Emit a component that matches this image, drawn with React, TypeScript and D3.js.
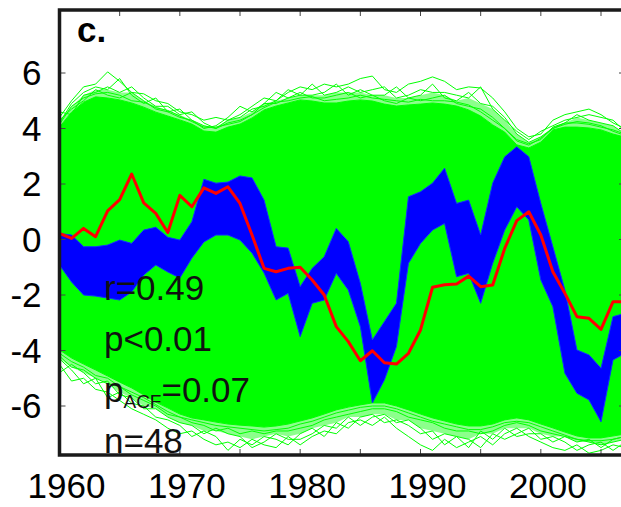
import React from "react";
import * as d3 from "d3";

// ---------- data ----------
const years = [
  1960, 1961, 1962, 1963, 1964, 1965, 1966, 1967, 1968, 1969,
  1970, 1971, 1972, 1973, 1974, 1975, 1976, 1977, 1978, 1979,
  1980, 1981, 1982, 1983, 1984, 1985, 1986, 1987, 1988, 1989,
  1990, 1991, 1992, 1993, 1994, 1995, 1996, 1997, 1998, 1999,
  2000, 2001, 2002, 2003, 2004, 2005, 2006, 2007,
];

// observed series (red)
const observed = [
  0.22, 0.04, 0.4, 0.1, 1.03, 1.44, 2.36, 1.32, 0.94, 0.25,
  1.59, 1.18, 1.86, 1.66, 1.9, 1.3, 0.16, -1.04, -1.16, -1.04,
  -1.0, -1.46, -2.0, -3.14, -3.68, -4.37, -4.01, -4.44, -4.49, -4.1,
  -3.26, -1.72, -1.63, -1.6, -1.32, -1.7, -1.64, -0.32, 0.68, 1.0,
  0.16, -1.16, -1.94, -2.78, -2.84, -3.24, -2.24, -2.25,
];

// blue ensemble envelope
const blueTop = [
  0.22, 0.16, -0.26, -0.26, -0.2, -0.02, -0.14, 0.34, 0.44, 0.08,
  -0.02, 0.64, 2.17, 2.03, 2.07, 2.29, 2.22, 1.42, -0.26, -0.31,
  -1.7, -1.04, -0.62, 0.4, -0.08, -1.58, -3.62, -2.96, -2.3, 1.54,
  1.72, 2.03, 2.57, 1.3, 1.42, 0.16, 2.03, 2.98, 3.34, 2.98,
  1.3, -0.26, -1.82, -3.98, -4.16, -4.64, -2.78, -2.66,
];
const blueBottom = [
  -0.92, -1.53, -2.0, -2.04, -2.11, -2.18, -1.89, -1.28, -0.92, -1.17,
  -1.39, -0.67, -0.09, 0.16, 0.16, -0.02, -0.49, -1.21, -2.18, -1.94,
  -3.5, -2.3, -2.18, -1.22, -1.82, -3.14, -5.89, -5.06, -3.86, -0.86,
  -0.14, 0.34, 0.58, -1.34, -1.22, -2.3, -0.86, 0.34, 1.18, 0.7,
  -1.46, -2.42, -4.82, -5.54, -5.78, -6.57, -4.34, -4.1,
];

// green ensemble: dense core envelope
const greenUpper = [
  4.05, 4.59, 4.95, 5.14, 5.1, 5.03, 4.92, 4.77, 4.59, 4.45,
  4.31, 4.16, 3.91, 3.87, 4.05, 4.16, 4.38, 4.67, 4.81, 4.92,
  5.03, 4.99, 4.92, 4.92, 4.99, 5.03, 4.99, 4.88, 4.81, 4.85,
  4.88, 4.92, 4.88, 4.81, 4.67, 4.45, 4.13, 3.87, 3.41, 3.3,
  3.51, 3.95, 4.05, 4.05, 4.02, 3.95, 3.8, 3.69,
];
const greenLower = [
  -3.98, -4.27, -4.49, -4.7, -4.92, -5.14, -5.35, -5.6, -5.86, -6.07,
  -6.29, -6.43, -6.5, -6.58, -6.65, -6.69, -6.72, -6.76, -6.72, -6.65,
  -6.54, -6.43, -6.29, -6.14, -6.04, -5.96, -5.89, -5.89, -6.0, -6.14,
  -6.29, -6.43, -6.54, -6.65, -6.72, -6.72, -6.65, -6.5, -6.43, -6.5,
  -6.65, -6.79, -6.94, -7.08, -7.15, -7.15, -7.08, -7.01,
];

// green ensemble: outermost single members (upper side)
const greenHigh1 = [
  4.4, 5.0, 5.5, 5.6, 6.04, 5.7, 5.3, 5.25, 5.0, 4.9,
  4.6, 4.5, 4.3, 4.4, 4.3, 4.5, 4.8, 5.1, 5.0, 5.3,
  5.5, 5.4, 5.6, 5.5, 5.6, 5.8, 5.89, 5.4, 5.3, 5.6,
  5.7, 5.86, 5.7, 5.4, 5.5, 5.46, 5.1, 4.6, 4.0, 3.7,
  3.8, 4.3, 4.5, 4.6, 4.7, 4.5, 4.2, 4.0,
];
const greenHigh2 = [
  4.2, 4.9, 5.3, 5.5, 5.4, 5.8, 5.2, 4.9, 5.1, 4.6,
  4.7, 4.3, 4.0, 4.1, 4.4, 4.8, 4.6, 4.9, 5.3, 5.1,
  5.2, 5.6, 5.2, 5.3, 5.5, 5.3, 5.4, 5.5, 5.1, 5.2,
  5.4, 5.3, 5.3, 5.2, 5.1, 5.5, 4.7, 4.3, 3.9, 3.6,
  3.9, 4.1, 4.3, 4.4, 4.5, 4.4, 4.3, 3.9,
];
const greenHigh3 = [
  4.6, 4.5, 5.2, 5.3, 5.5, 5.3, 5.5, 5.1, 4.8, 4.8,
  4.5, 4.6, 4.2, 4.0, 4.3, 4.4, 4.7, 4.8, 5.0, 5.4,
  5.2, 5.2, 5.3, 5.6, 5.2, 5.4, 5.2, 5.2, 5.5, 5.1,
  5.2, 5.6, 5.1, 5.0, 5.3, 4.9, 4.8, 4.4, 3.8, 3.5,
  3.7, 4.0, 4.2, 4.5, 4.3, 4.2, 4.1, 3.8,
];
const greenHigh4 = [
  4.3, 4.7, 5.0, 5.4, 5.2, 5.1, 5.3, 5.0, 4.7, 4.6,
  4.4, 4.3, 4.1, 4.0, 4.2, 4.3, 4.5, 4.9, 4.9, 5.1,
  5.3, 5.1, 5.1, 5.2, 5.3, 5.1, 5.2, 5.0, 4.9, 5.1,
  5.0, 5.1, 5.2, 4.9, 4.8, 4.7, 4.4, 4.0, 3.6, 3.45,
  3.6, 4.05, 4.2, 4.2, 4.15, 4.05, 3.95, 3.8,
];
const greenHigh5 = [
  4.15, 4.8, 5.1, 5.25, 5.3, 5.2, 5.0, 4.95, 4.75, 4.65,
  4.45, 4.25, 4.05, 4.05, 4.15, 4.25, 4.5, 4.75, 4.95, 5.0,
  5.1, 5.15, 5.0, 5.05, 5.1, 5.2, 5.1, 5.05, 5.0, 4.95,
  5.05, 5.0, 5.0, 4.95, 4.85, 4.6, 4.3, 4.0, 3.55, 3.4,
  3.65, 4.0, 4.15, 4.25, 4.2, 4.1, 3.9, 3.75,
];
// green ensemble: outermost single members (lower side)
const greenLow1 = [
  -4.5, -5.1, -5.0, -5.4, -5.5, -5.8, -6.1, -6.3, -6.5, -6.8,
  -7.0, -6.9, -7.2, -7.4, -7.3, -7.5, -7.2, -7.4, -7.5, -7.1,
  -7.4, -7.1, -6.9, -7.0, -6.6, -6.5, -6.7, -6.4, -6.8, -7.1,
  -7.4, -7.6, -7.2, -7.5, -7.3, -7.1, -7.4, -7.0, -6.8, -7.1,
  -7.3, -7.5, -7.6, -7.4, -7.7, -7.6, -7.4, -7.5,
];
const greenLow2 = [
  -4.3, -4.7, -5.2, -5.0, -5.7, -5.5, -5.9, -6.0, -6.4, -6.5,
  -6.7, -7.1, -6.9, -7.1, -7.6, -7.2, -7.4, -7.1, -7.2, -7.4,
  -7.0, -6.8, -7.1, -6.6, -6.8, -6.4, -6.3, -6.6, -6.5, -6.7,
  -7.0, -6.9, -7.4, -7.1, -7.2, -7.5, -7.0, -7.2, -7.0, -6.8,
  -7.2, -7.1, -7.3, -7.6, -7.4, -7.3, -7.6, -7.3,
];
const greenLow3 = [
  -4.8, -4.5, -4.8, -5.2, -5.1, -5.6, -5.7, -6.1, -6.1, -6.4,
  -6.6, -6.7, -7.0, -6.8, -7.0, -7.1, -7.5, -7.3, -7.0, -7.2,
  -7.2, -7.0, -6.7, -6.8, -6.4, -6.7, -6.4, -6.3, -6.6, -6.5,
  -6.8, -7.2, -7.0, -7.1, -7.5, -6.9, -7.2, -6.8, -7.1, -7.0,
  -7.0, -7.3, -7.1, -7.3, -7.2, -7.5, -7.2, -7.1,
];
const greenLow4 = [
  -4.2, -4.6, -4.7, -5.0, -5.2, -5.3, -5.6, -5.8, -6.0, -6.3,
  -6.4, -6.6, -6.7, -6.9, -6.8, -7.0, -6.9, -7.0, -6.9, -6.9,
  -6.8, -6.7, -6.5, -6.4, -6.3, -6.2, -6.1, -6.1, -6.2, -6.4,
  -6.5, -6.6, -6.8, -6.9, -6.9, -7.0, -6.9, -6.7, -6.6, -6.7,
  -6.9, -7.0, -7.1, -7.2, -7.3, -7.4, -7.3, -7.2,
];
const greenLow5 = [
  -4.1, -4.4, -4.6, -4.9, -5.0, -5.3, -5.5, -5.7, -5.95, -6.2,
  -6.4, -6.5, -6.6, -6.7, -6.75, -6.8, -6.85, -6.9, -6.85, -6.8,
  -6.65, -6.55, -6.4, -6.25, -6.15, -6.05, -6.0, -6.0, -6.1, -6.25,
  -6.4, -6.55, -6.65, -6.75, -6.85, -6.85, -6.75, -6.6, -6.55, -6.6,
  -6.75, -6.9, -7.05, -7.2, -7.25, -7.25, -7.2, -7.1,
];

const xTickYears = [1965, 1970, 1975, 1980, 1985, 1990, 1995, 2000, 2005];
const xLabelYears = [1960, 1970, 1980, 1990, 2000];
const xLabels = ["1960", "1970", "1980", "1990", "2000"];
const yTickValues = [6, 4, 2, 0, -2, -4, -6];
const yLabels = ["6", "4", "2", "0", "-2", "-4", "-6"];
const panelLabel = "c.";
const statR = "r=0.49";
const statP = "p<0.01";
const statPacfValue = "=0.07";
const statN = "n=48";

// ---------- layout ----------
const W = 621;
const H = 507;
const left = 59.5;
const top = 10;
const bottom = 455;
const right = 626;
const FONT = "'Liberation Sans', Arial, Helvetica, sans-serif";

export default function App() {
  const x = d3.scaleLinear().domain([1960, 2005]).range([59.5, 601]);
  const y = d3.scaleLinear().domain([-6, 6]).range([406, 73]);

  const line = (vals: number[]) =>
    d3.line<number>()
      .x((_, i) => x(years[i]))
      .y((d) => y(d))(vals) as string;

  const band = (lo: number[], hi: number[]) =>
    d3.area<number>()
      .x((_, i) => x(years[i]))
      .y0((_, i) => y(lo[i]))
      .y1((_, i) => y(hi[i]))(lo) as string;

  const highs = [greenHigh1, greenHigh2, greenHigh3, greenHigh4, greenHigh5];
  const lows = [greenLow1, greenLow2, greenLow3, greenLow4, greenLow5];
  const highMid = years.map((_, i) => d3.median(highs, (h) => h[i]) as number);
  const lowMid = years.map((_, i) => d3.median(lows, (h) => h[i]) as number);

  return (
    <svg
      width={W}
      height={H}
      style={{ position: "absolute", left: 0, top: 0, background: "#fff" }}
      fontFamily={FONT}
    >
      <defs>
        <clipPath id="plot">
          <rect x={left} y={top} width={right - left} height={bottom - top} />
        </clipPath>
      </defs>

      <g clipPath="url(#plot)">
        <path d={band(greenUpper, highMid)} fill="#00ff00" opacity={0.45} />
        <path d={band(lowMid, greenLower)} fill="#00ff00" opacity={0.45} />
        {[...highs, ...lows].map((f, k) => (
          <path key={k} d={line(f)} fill="none" stroke="#00ff00" strokeWidth={1} />
        ))}
        <path d={band(greenLower, greenUpper)} fill="#00ff00" stroke="#00ff00" strokeWidth={1} />
        <path d={band(blueBottom, blueTop)} fill="#0000ff" stroke="#1030ff" strokeWidth={1} />
        <path
          d={line(observed)}
          fill="none"
          stroke="#ff0000"
          strokeWidth={3}
          strokeLinejoin="round"
        />
      </g>

      {/* ticks */}
      <g stroke="#444" strokeWidth={1}>
        {xTickYears.map((yr) => (
          <g key={yr}>
            <line x1={x(yr)} x2={x(yr)} y1={top} y2={top + 6} />
            <line x1={x(yr)} x2={x(yr)} y1={bottom} y2={bottom - 6} />
          </g>
        ))}
        {yTickValues.map((v) => (
          <g key={v}>
            <line x1={left} x2={left + 6} y1={y(v)} y2={y(v)} />
            <line x1={right} x2={right - 7} y1={y(v)} y2={y(v)} />
          </g>
        ))}
      </g>

      {/* frame */}
      <path
        d={`M${right + 2},${top} L${left},${top} L${left},${bottom} L${right + 2},${bottom}`}
        fill="none"
        stroke="#1a1a1a"
        strokeWidth={3.5}
      />

      {/* axis labels */}
      <g fontSize={35} fill="#000">
        {xLabelYears.map((yr, i) => (
          <text key={yr} x={x(yr) + 7} y={498} textAnchor="middle">
            {xLabels[i]}
          </text>
        ))}
        {yTickValues.map((v, i) => (
          <text key={v} x={41.5} y={y(v) + 12} textAnchor="end">
            {yLabels[i]}
          </text>
        ))}
      </g>

      <text x={77} y={42} fontSize={35} fontWeight="bold" fill="#000">
        {panelLabel}
      </text>

      <g fontSize={35} fill="#111">
        <text x={104} y={300}>{statR}</text>
        <text x={104} y={351}>{statP}</text>
        <text x={104} y={402}>
          p<tspan fontSize={19} dy={6}>ACF</tspan>
          <tspan dy={-6}>{statPacfValue}</tspan>
        </text>
        <text x={104} y={453}>{statN}</text>
      </g>
    </svg>
  );
}
